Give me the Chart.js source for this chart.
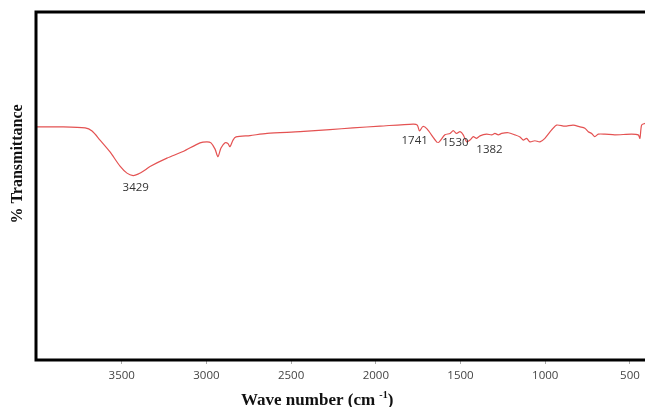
<!DOCTYPE html>
<html>
<head>
<meta charset="utf-8">
<script src="https://cdn.jsdelivr.net/npm/chart.js@4"></script>
<style>
  html, body { margin: 0; padding: 0; background: #fff; }
  #wrap { width: 645px; height: 407px; }
</style>
</head>
<body>
<div id="wrap"><canvas id="chart" width="645" height="407"></canvas></div>
<script>
// FTIR spectrum (wave number in cm-1, transmittance in %)
const wavenumbers = [4000, 3864, 3716, 3675, 3628, 3569, 3510, 3469, 3433, 3404,
  3362, 3333, 3233, 3138, 3038, 2997, 2973, 2949, 2932, 2914,
  2890, 2873, 2861, 2843, 2825, 2743, 2642, 2447, 2271, 2135,
  1975, 1780, 1755, 1742, 1722, 1698, 1641, 1627, 1592, 1562,
  1543, 1523, 1503, 1484, 1464, 1444, 1425, 1405, 1385, 1346,
  1316, 1297, 1277, 1257, 1218, 1179, 1149, 1130, 1110, 1090,
  1061, 1031, 1002, 962, 933, 884, 835, 795, 766, 746,
  726, 707, 687, 648, 589, 490, 451, 441, 431, 411];
const transmittance = [67.0, 67.0, 66.7, 65.8, 63.2, 59.8, 55.7, 53.7, 53.0, 53.4,
  54.6, 55.6, 58.0, 59.9, 62.4, 62.7, 62.4, 60.6, 58.4, 60.9,
  62.4, 62.2, 61.3, 63.2, 64.1, 64.5, 65.1, 65.6, 66.2, 66.7,
  67.2, 67.8, 67.5, 65.8, 67.1, 66.4, 62.7, 62.6, 64.7, 65.1,
  65.9, 65.1, 65.6, 64.7, 62.7, 63.2, 64.2, 63.7, 64.4, 64.9,
  64.7, 65.1, 64.7, 65.1, 65.3, 64.7, 64.1, 63.2, 63.7, 62.7,
  63.0, 62.7, 63.7, 66.1, 67.5, 67.2, 67.5, 67.0, 66.6, 65.6,
  65.1, 64.2, 64.9, 64.9, 64.7, 64.9, 64.7, 63.7, 67.5, 68.0];
const tickValues = [3500, 3000, 2500, 2000, 1500, 1000, 500];
const peaks = [3429, 1741, 1530, 1382];
const peakLabels = ["3429", "1741", "1530", "1382"];

// label offsets from the peak position (px)
const peakOffsets = [[2, 12], [-5, 10], [0, 9], [9, 14]];

const frame = {
  id: "frame",
  afterDraw(chart) {
    const { ctx, chartArea: a, scales } = chart;
    ctx.save();
    ctx.strokeStyle = "#000";
    ctx.lineWidth = 3;
    ctx.beginPath();
    ctx.moveTo(a.right + 2, a.top);
    ctx.lineTo(a.left, a.top);
    ctx.lineTo(a.left, a.bottom);
    ctx.lineTo(a.right + 2, a.bottom);
    ctx.stroke();

    // peak annotations
    ctx.fillStyle = "#333";
    ctx.font = "11.5px 'Open Sans'";
    ctx.textAlign = "center";
    ctx.textBaseline = "middle";
    peaks.forEach((p, i) => {
      const idx = wavenumbers.reduce((b, w, j) =>
        Math.abs(w - p) < Math.abs(wavenumbers[b] - p) ? j : b, 0);
      const x = scales.x.getPixelForValue(p) + peakOffsets[i][0];
      const y = scales.y.getPixelForValue(transmittance[idx]) + peakOffsets[i][1];
      ctx.fillText(peakLabels[i], x, y);
    });

    // axis titles
    ctx.fillStyle = "#111";
    ctx.font = "bold 17px 'Liberation Serif'";
    ctx.textAlign = "left";
    ctx.textBaseline = "alphabetic";
    let tx = 241;
    const ty = 405;
    const part = "Wave number (cm ";
    ctx.fillText(part, tx, ty);
    tx += ctx.measureText(part).width;
    ctx.font = "bold 10px 'Liberation Serif'";
    ctx.fillText("-1", tx, ty - 7);
    tx += ctx.measureText("-1").width;
    ctx.font = "bold 17px 'Liberation Serif'";
    ctx.fillText(")", tx, ty);

    ctx.translate(18, 164);
    ctx.rotate(-Math.PI / 2);
    ctx.textAlign = "center";
    ctx.textBaseline = "middle";
    ctx.font = "bold 16px 'Liberation Serif'";
    ctx.fillText("% Transmittance", 0, 0);
    ctx.restore();
  },
};

new Chart(document.getElementById("chart").getContext("2d"), {
  type: "line",
  data: {
    datasets: [
      {
        data: wavenumbers.map((w, i) => ({ x: w, y: transmittance[i] })),
        borderColor: "#e45252",
        borderWidth: 1.2,
        pointRadius: 0,
        tension: 0.25,
        fill: false,
      },
    ],
  },
  options: {
    responsive: false,
    animation: false,
    layout: { padding: { left: 36, top: 12, right: 0, bottom: 0 } },
    plugins: { legend: { display: false }, tooltip: { enabled: false } },
    scales: {
      x: {
        type: "linear",
        reverse: true,
        min: 411,
        max: 4006,
        afterBuildTicks: (scale) => {
          scale.ticks = tickValues.map((v) => ({ value: v }));
        },
        afterFit: (scale) => {
          scale.height = 47;
        },
        grid: {
          drawOnChartArea: false,
          drawTicks: true,
          tickLength: 4,
          color: "#aaa",
        },
        border: { display: false },
        ticks: {
          padding: 5,
          color: "#444",
          font: { family: "'Open Sans'", size: 11.5 },
          maxRotation: 0,
          callback: (v) => String(v),
        },
      },
      y: {
        display: false,
        min: 0,
        max: 100,
      },
    },
  },
  plugins: [frame],
});
</script>
</body>
</html>
